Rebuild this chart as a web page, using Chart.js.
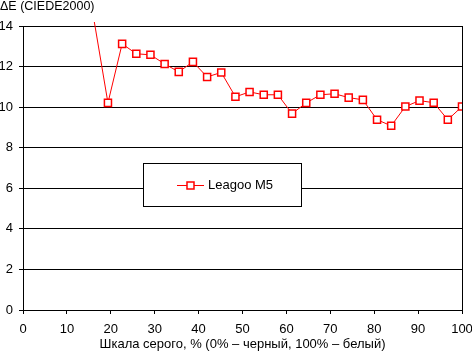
<!DOCTYPE html>
<html>
<head>
<meta charset="utf-8">
<script src="https://cdn.jsdelivr.net/npm/chart.js@4/dist/chart.umd.min.js"></script>
<style>
  html, body { margin: 0; padding: 0; background: #fff; }
  #wrap { width: 472px; height: 352px; }
</style>
</head>
<body>
<div id="wrap"><canvas id="c" width="472" height="352"></canvas></div>
<script>
// Gray level steps (% of scale), i*100/31
const grayLevels = [16.13, 19.35, 22.58, 25.81, 29.03, 32.26, 35.48, 38.71, 41.94, 45.16,
  48.39, 51.61, 54.84, 58.06, 61.29, 64.52, 67.74, 70.97, 74.19, 77.42,
  80.65, 83.87, 87.10, 90.32, 93.55, 96.77, 100];
const deltaE = [14.35, 10.21, 13.12, 12.63, 12.58, 12.13, 11.74, 12.23, 11.49, 11.71,
  10.51, 10.75, 10.61, 10.61, 9.68, 10.21, 10.61, 10.66, 10.47, 10.36,
  9.38, 9.08, 10.03, 10.32, 10.22, 9.38, 10.03];
const xTicks = [0, 10, 20, 30, 40, 50, 60, 70, 80, 90, 100];
const yTicks = [0, 2, 4, 6, 8, 10, 12, 14];
const seriesName = 'Leagoo M5';
const yTitle = 'ΔE (CIEDE2000)';
const xTitle = 'Шкала серого, % (0% – черный, 100% – белый)';

const FONT = 'Liberation Sans, Arial, sans-serif';
const FS = 13;

const points = grayLevels.map((x, i) => ({ x: x, y: deltaE[i] }));

const extras = {
  id: 'extras',
  afterDraw(chart) {
    const ctx = chart.ctx;
    const a = chart.chartArea;
    ctx.save();
    // right border
    ctx.strokeStyle = '#000';
    ctx.lineWidth = 1;
    ctx.beginPath();
    ctx.moveTo(Math.round(a.right) + 0.5, a.top);
    ctx.lineTo(Math.round(a.right) + 0.5, a.bottom);
    ctx.stroke();
    // y title
    ctx.fillStyle = '#000';
    ctx.font = '12.5px ' + FONT;
    ctx.textAlign = 'left';
    ctx.textBaseline = 'top';
    ctx.fillText(yTitle, 0, 0);
    // legend box
    const bx = 143.5, by = 163.5, bw = 158, bh = 43;
    ctx.fillStyle = '#fff';
    ctx.fillRect(bx, by, bw, bh);
    ctx.strokeStyle = '#000';
    ctx.strokeRect(bx, by, bw, bh);
    const ly = 185.5;
    ctx.strokeStyle = '#ff0000';
    ctx.beginPath();
    ctx.moveTo(177, ly);
    ctx.lineTo(204, ly);
    ctx.stroke();
    ctx.fillStyle = '#fff';
    ctx.lineWidth = 1.5;
    ctx.fillRect(187, 182, 7, 7);
    ctx.strokeRect(187, 182, 7, 7);
    ctx.fillStyle = '#000';
    ctx.font = FS + 'px ' + FONT;
    ctx.textBaseline = 'middle';
    ctx.fillText(seriesName, 208, ly);
    ctx.restore();
  }
};

new Chart(document.getElementById('c'), {
  type: 'line',
  data: {
    datasets: [{
      label: seriesName,
      data: points,
      borderColor: '#ff0000',
      borderWidth: 1,
      backgroundColor: '#ffffff',
      pointStyle: 'rect',
      pointRadius: (c) => (c.raw && c.raw.y > 14 ? 0 : 5),
      pointBorderWidth: 1.5,
      pointBorderColor: '#ff0000',
      pointBackgroundColor: '#ffffff',
      tension: 0,
      clip: { left: 0, top: 4, right: 0, bottom: 0 }
    }]
  },
  options: {
    responsive: false,
    animation: false,
    devicePixelRatio: 1,
    layout: { padding: { top: 26, right: 10, left: 0, bottom: 0 } },
    plugins: { legend: { display: false }, tooltip: { enabled: false }, title: { display: false } },
    scales: {
      x: {
        type: 'linear', min: 0, max: 100,
        afterBuildTicks: (s) => { s.ticks = xTicks.map(v => ({ value: v })); },
        afterFit: (s) => { s.height = 42; s.paddingLeft = 0; s.paddingRight = 0; },
        ticks: { color: '#000', font: { family: FONT, size: FS }, padding: 8, maxRotation: 0 },
        grid: { drawOnChartArea: false, color: '#000', tickLength: 4 },
        border: { color: '#000' },
        title: { display: true, text: xTitle, color: '#000', font: { family: FONT, size: FS }, padding: { top: 0, bottom: 0 } }
      },
      y: {
        min: 0, max: 14,
        afterBuildTicks: (s) => { s.ticks = yTicks.map(v => ({ value: v })); },
        afterFit: (s) => { s.width = 23; s.paddingTop = 0; s.paddingBottom = 0; },
        ticks: { color: '#000', font: { family: FONT, size: FS }, padding: 6 },
        grid: { color: '#000', tickLength: 4 },
        border: { color: '#000' }
      }
    }
  },
  plugins: [extras]
});
</script>
</body>
</html>
